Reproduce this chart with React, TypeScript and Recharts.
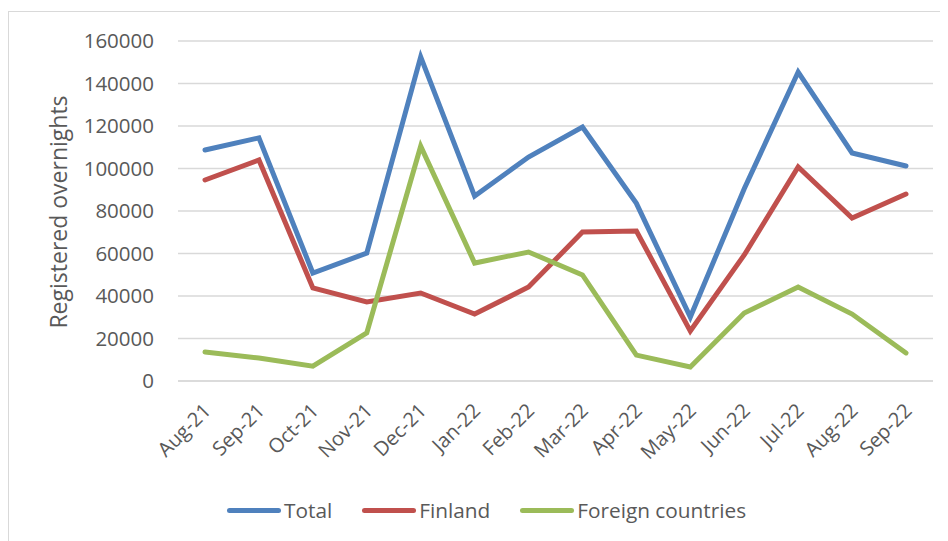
import React from 'react';
import { LineChart, Line, XAxis, YAxis, CartesianGrid } from 'recharts';

const months = ['Aug-21', 'Sep-21', 'Oct-21', 'Nov-21', 'Dec-21', 'Jan-22', 'Feb-22', 'Mar-22', 'Apr-22', 'May-22', 'Jun-22', 'Jul-22', 'Aug-22', 'Sep-22'];
const total = [108700, 114400, 50800, 60200, 152500, 87000, 105400, 119500, 83600, 30100, 90500, 145400, 107300, 101200];
const finland = [94600, 104000, 43800, 37200, 41400, 31500, 44200, 70100, 70600, 23500, 59300, 100700, 76700, 88000];
const foreign = [13600, 10800, 7000, 22600, 110500, 55500, 60700, 49900, 12200, 6600, 32000, 44200, 31500, 13200];
const yTicks = [0, 20000, 40000, 60000, 80000, 100000, 120000, 140000, 160000];

const seriesNames = ['Total', 'Finland', 'Foreign countries'];
const seriesColors = ['#4F81BD', '#C0504D', '#9BBB59'];

const data = months.map((m, i) => ({ month: m, total: total[i], finland: finland[i], foreign: foreign[i] }));

const FONT = '"Open Sans", sans-serif';
const TEXT = '#595959';

const XTick = (props: any) => {
  const { x, y, payload } = props;
  return (
    <g transform={`translate(${x},${y})`}>
      <text x={7} y={23} textAnchor="end" fill={TEXT} fontFamily={FONT} fontSize={20} transform="rotate(-45, 7, 23)">
        {payload.value}
      </text>
    </g>
  );
};

const YLabel = () => (
  <text x={50} y={204} transform="rotate(-90, 50, 204)" textAnchor="middle" dominantBaseline="central" fill={TEXT} fontFamily={FONT} fontSize={23}>
    Registered overnights
  </text>
);

export default function App() {
  return (
    <div style={{ position: 'relative', width: 940, height: 533, overflow: 'hidden' }}>
      <div style={{ position: 'absolute', left: 0, top: 3, width: 980, height: 600, border: '1.5px solid #D9D9D9', boxSizing: 'border-box' }} />
      <LineChart width={940} height={533} data={data} margin={{ top: 33, right: 15, left: 0, bottom: 100 }} style={{ position: 'absolute', left: 0, top: 0 }}>
        <CartesianGrid vertical={false} stroke="#D9D9D9" strokeWidth={1.5} />
        <XAxis dataKey="month" interval={0} height={60} padding={{ left: 27, right: 27 }} tickLine={false} axisLine={{ stroke: '#D9D9D9', strokeWidth: 1.5 }} tick={<XTick />} />
        <YAxis width={170} domain={[0, 160000]} ticks={yTicks} interval={0} tickLine={false} axisLine={false} tickMargin={18} tick={{ fill: TEXT, fontFamily: FONT, fontSize: 20.5 }} label={<YLabel />} />
        <Line dataKey="total" stroke={seriesColors[0]} strokeWidth={5} dot={false} isAnimationActive={false} strokeLinejoin="miter" strokeLinecap="round" />
        <Line dataKey="finland" stroke={seriesColors[1]} strokeWidth={5} dot={false} isAnimationActive={false} strokeLinejoin="miter" strokeLinecap="round" />
        <Line dataKey="foreign" stroke={seriesColors[2]} strokeWidth={5} dot={false} isAnimationActive={false} strokeLinejoin="miter" strokeLinecap="round" />
      </LineChart>
      <div style={{ position: 'absolute', left: 219, top: 488, display: 'flex', alignItems: 'center', fontFamily: FONT, fontSize: 20.8, color: TEXT, whiteSpace: 'nowrap' }}>
        {seriesNames.map((n, i) => (
          <div key={n} style={{ display: 'flex', alignItems: 'center', marginRight: i < 2 ? 30 : 0 }}>
            <div style={{ width: 54, height: 5, borderRadius: 3, background: seriesColors[i], marginRight: 3 }} />
            <span>{n}</span>
          </div>
        ))}
      </div>
    </div>
  );
}
